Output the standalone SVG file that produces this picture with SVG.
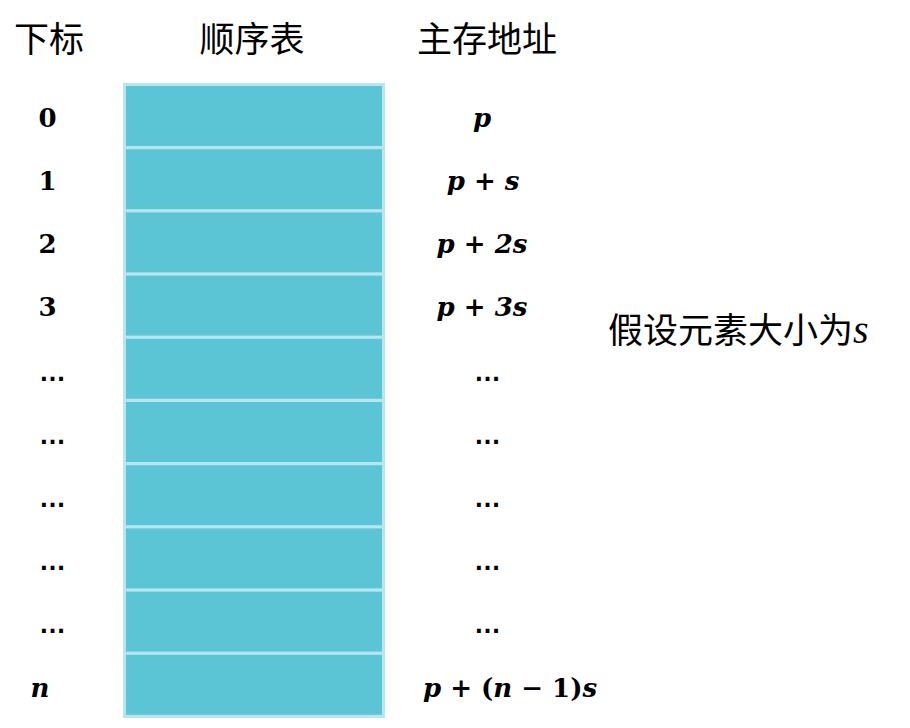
<svg xmlns="http://www.w3.org/2000/svg" width="910" height="728" viewBox="0 0 910 728">
<style>
.cjk{font-family:"Noto Sans CJK SC","Noto Sans CJK JP",sans-serif;font-size:35px;fill:#000}
.num{font-family:"DejaVu Serif",serif;font-weight:bold;font-size:26px;fill:#000;text-anchor:middle}
.var{font-family:"DejaVu Serif",serif;font-weight:bold;font-style:italic;font-size:26px;fill:#000;text-anchor:middle}
.op{font-style:normal}
.dots{font-family:"Liberation Sans",sans-serif;font-weight:bold;font-size:27px;fill:#000;text-anchor:middle}
.cell{fill:#5bc5d6}
.frame{fill:#b9e6ee}
</style>
<rect width="910" height="728" fill="#fff"/>
<g id="headers">
<text class="cjk" x="49" y="52" text-anchor="middle">下标</text>
<text class="cjk" x="252" y="52" text-anchor="middle">顺序表</text>
<text class="cjk" x="487" y="52" text-anchor="middle">主存地址</text>
</g>
<g id="table">
<rect class="frame" x="123" y="83" width="262" height="635"/>
<rect class="cell" x="126" y="86" width="256" height="60"/>
<rect class="cell" x="126" y="149.2" width="256" height="60"/>
<rect class="cell" x="126" y="212.4" width="256" height="60"/>
<rect class="cell" x="126" y="275.6" width="256" height="60"/>
<rect class="cell" x="126" y="338.8" width="256" height="60"/>
<rect class="cell" x="126" y="402" width="256" height="60"/>
<rect class="cell" x="126" y="465.2" width="256" height="60"/>
<rect class="cell" x="126" y="528.4" width="256" height="60"/>
<rect class="cell" x="126" y="591.6" width="256" height="60"/>
<rect class="cell" x="126" y="654.8" width="256" height="60"/>
</g>
<g id="indices">
<text class="num" x="47.5" y="127">0</text>
<text class="num" x="47.5" y="190">1</text>
<text class="num" x="47.5" y="253">2</text>
<text class="num" x="47.5" y="316">3</text>
<text class="dots" x="52.5" y="381">…</text>
<text class="dots" x="52.5" y="444">…</text>
<text class="dots" x="52.5" y="507">…</text>
<text class="dots" x="52.5" y="570">…</text>
<text class="dots" x="52.5" y="633">…</text>
<text class="var" x="40" y="697">n</text>
</g>
<g id="addresses">
<text class="var" x="482" y="127">p</text>
<text class="var" x="483" y="190">p<tspan class="op"> + </tspan>s</text>
<text class="var" x="482" y="253">p<tspan class="op"> + </tspan>2s</text>
<text class="var" x="482" y="316">p<tspan class="op"> + </tspan>3s</text>
<text class="dots" x="487.5" y="381">…</text>
<text class="dots" x="487.5" y="444">…</text>
<text class="dots" x="487.5" y="507">…</text>
<text class="dots" x="487.5" y="570">…</text>
<text class="dots" x="487.5" y="633">…</text>
<text class="var" x="510" y="697">p<tspan class="op"> + (</tspan>n<tspan class="op"> − 1)</tspan>s</text>
</g>
<g id="note">
<text class="cjk" x="608" y="343" font-size="36">假设元素大小为<tspan font-family="Liberation Serif, serif" font-style="italic" font-size="40">s</tspan></text>
</g>
</svg>
